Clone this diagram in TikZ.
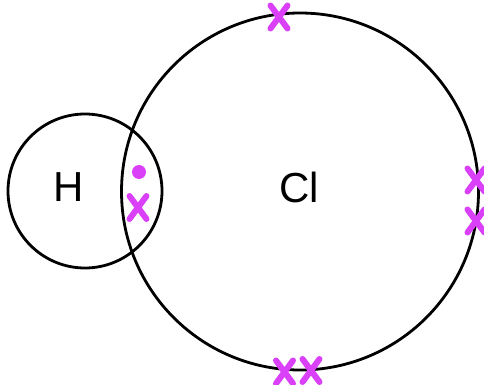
\documentclass[tikz,border=0pt]{standalone}
\usepackage{fontspec}
\setmainfont{Liberation Sans}
\usetikzlibrary{shapes.misc}
\definecolor{markc}{RGB}{217,64,247}
\tikzset{
  x=1pt,y=-1pt,
  shell/.style={circle,draw=black,line width=2.8pt,inner sep=0pt,outer sep=0pt},
  xmark/.style={cross out,draw=markc,line width=6pt,line cap=round,inner sep=0pt,outer sep=0pt,minimum width=17pt,minimum height=23pt},
  emark/.style={circle,fill=markc,inner sep=0pt,outer sep=0pt,minimum size=14pt},
  atom/.style={font=\fontsize{42}{42}\selectfont,inner sep=0pt,text=black}
}
\begin{document}
\begin{tikzpicture}
\useasboundingbox (0,0) rectangle (484,385);
\node[shell,minimum size=154pt] (hshell) at (85,191) {};
\node[shell,minimum size=357pt] (clshell) at (300,191.5) {};
\node[atom] (h) at (68.5,187) {H};
\node[atom] (cl) at (299,187) {Cl};
\node[emark] (dot) at (139,172) {};
\node[xmark] (x1) at (138,207.5) {};
\node[xmark] (x2) at (279,17) {};
\node[xmark] (x3) at (476,180) {};
\node[xmark] (x4) at (476,221) {};
\node[xmark] (x5) at (284.5,372) {};
\node[xmark] (x6) at (311,370.5) {};
\end{tikzpicture}
\end{document}
